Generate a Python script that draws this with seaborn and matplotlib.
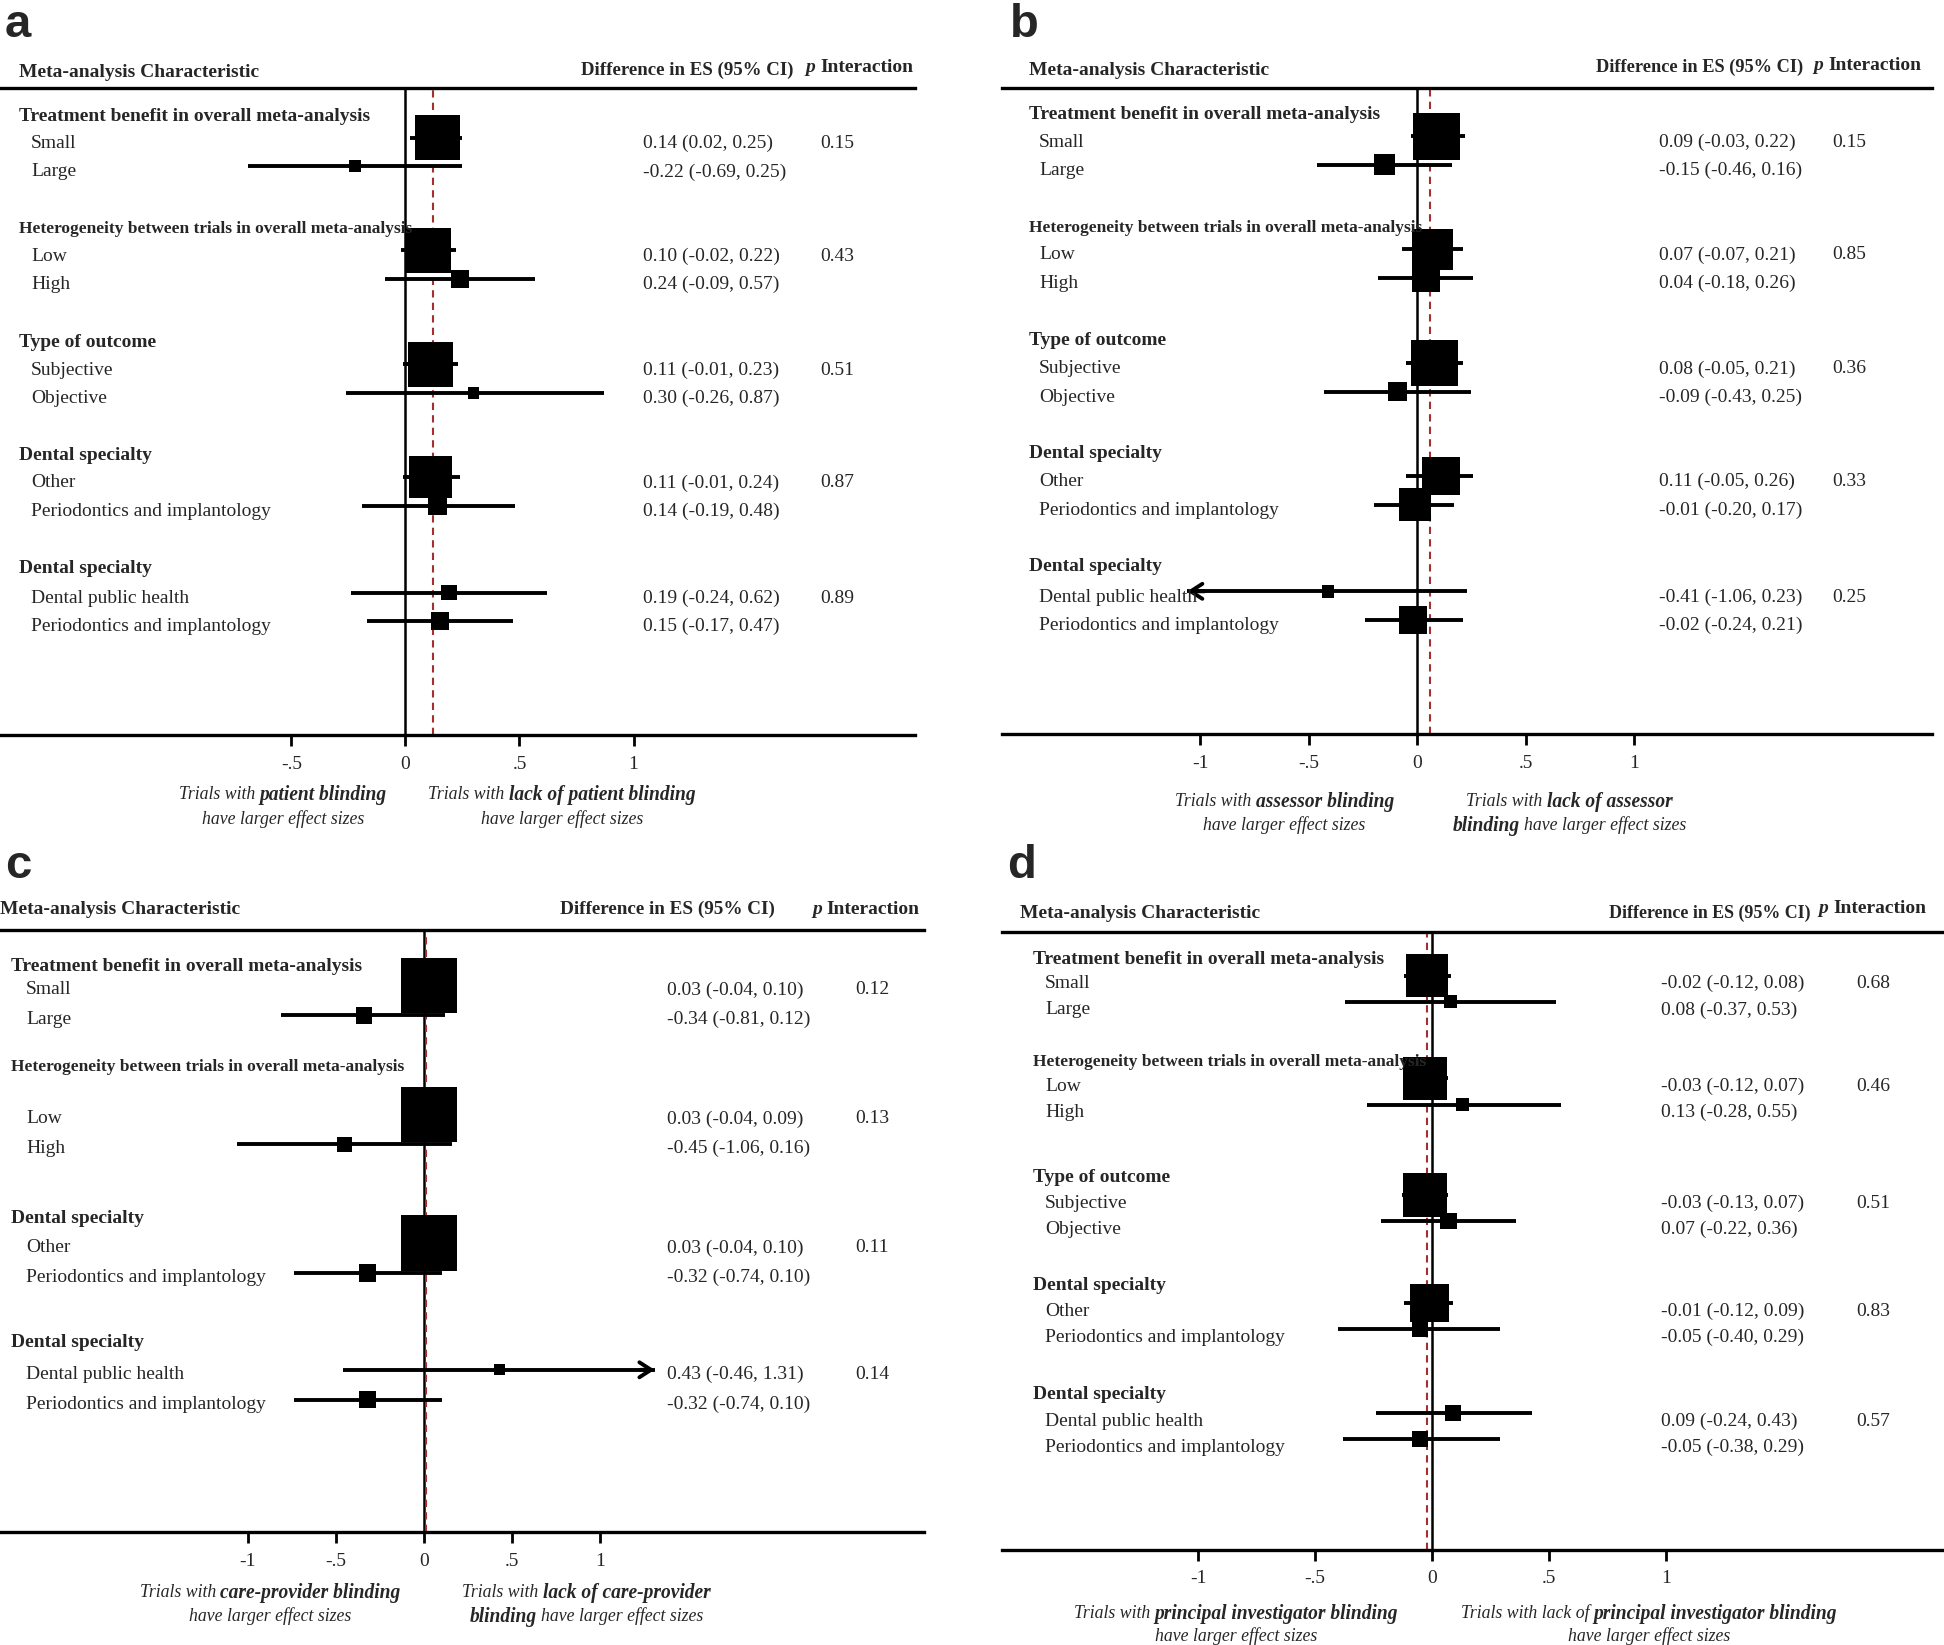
import numpy as np
import pandas as pd
import matplotlib
matplotlib.use("Agg")
import matplotlib.pyplot as plt
import matplotlib.transforms as mtransforms
import seaborn as sns

# ---------------- data ----------------
groups_abd = ["Treatment benefit in overall meta-analysis",
              "Heterogeneity between trials in overall meta-analysis",
              "Type of outcome", "Dental specialty", "Dental specialty"]
items_abd = ["Small", "Large", "Low", "High", "Subjective", "Objective",
             "Other", "Periodontics and implantology",
             "Dental public health", "Periodontics and implantology"]
groups_c = ["Treatment benefit in overall meta-analysis",
            "Heterogeneity between trials in overall meta-analysis",
            "Dental specialty", "Dental specialty"]
items_c = ["Small", "Large", "Low", "High",
           "Other", "Periodontics and implantology",
           "Dental public health", "Periodontics and implantology"]

# a: patient blinding
a_est = [0.14, -0.22, 0.10, 0.24, 0.11, 0.30, 0.11, 0.14, 0.19, 0.15]
a_lo = [0.02, -0.69, -0.02, -0.09, -0.01, -0.26, -0.01, -0.19, -0.24, -0.17]
a_hi = [0.25, 0.25, 0.22, 0.57, 0.23, 0.87, 0.24, 0.48, 0.62, 0.47]
a_weight = [13.0, 1.0, 13.0, 2.1, 13.0, 0.8, 11.6, 2.25, 1.6, 2.1]
a_p = ["0.15", "0.43", "0.51", "0.87", "0.89"]
a_overall = 0.12

# b: assessor blinding
b_est = [0.09, -0.15, 0.07, 0.04, 0.08, -0.09, 0.11, -0.01, -0.41, -0.02]
b_lo = [-0.03, -0.46, -0.07, -0.18, -0.05, -0.43, -0.05, -0.20, -1.06, -0.24]
b_hi = [0.22, 0.16, 0.21, 0.26, 0.21, 0.25, 0.26, 0.17, 0.23, 0.21]
b_weight = [14.1, 2.9, 10.9, 5.1, 14.1, 2.25, 9.0, 6.8, 1.0, 5.1]
b_p = ["0.15", "0.85", "0.36", "0.33", "0.25"]
b_overall = 0.06

# c: care-provider blinding
c_est = [0.03, -0.34, 0.03, -0.45, 0.03, -0.32, 0.43, -0.32]
c_lo = [-0.04, -0.81, -0.04, -1.06, -0.04, -0.74, -0.46, -0.74]
c_hi = [0.10, 0.12, 0.09, 0.16, 0.10, 0.10, 1.31, 0.10]
c_weight = [20.3, 1.8, 20.3, 1.4, 20.3, 2.0, 0.8, 2.0]
c_p = ["0.12", "0.13", "0.11", "0.14"]
c_overall = 0.01

# d: principal investigator blinding
d_est = [-0.02, 0.08, -0.03, 0.13, -0.03, 0.07, -0.01, -0.05, 0.09, -0.05]
d_lo = [-0.12, -0.37, -0.12, -0.28, -0.13, -0.22, -0.12, -0.40, -0.24, -0.38]
d_hi = [0.08, 0.53, 0.07, 0.55, 0.07, 0.36, 0.09, 0.29, 0.43, 0.29]
d_weight = [11.6, 1.1, 12.3, 1.2, 12.3, 1.8, 9.6, 1.6, 1.6, 1.6]
d_p = ["0.68", "0.46", "0.51", "0.83", "0.57"]
d_overall = -0.02

# ---------------- style ----------------
sns.set_theme(style="white")
plt.rcParams["font.family"] = ["Liberation Serif", "DejaVu Serif"]
SERIF = "Liberation Serif"

W, H = 1568, 1327           # layout units (reference pixels)
fig = plt.figure(figsize=(19.44, 16.45), dpi=100)
ref = mtransforms.Affine2D().scale(1 / W, -1 / H).translate(0, 1) + fig.transFigure
AREA = 79.7                 # marker area (pt^2) per unit of weight
RED = "#a3302f"


def rich(x, y, parts, size, ha="center", bold_scale=1.0):
    """Write one line made of (text, weight, style) pieces."""
    r = fig.canvas.get_renderer()
    gap = 0.25 * size * 100 / 72 * W / fig.bbox.width
    texts, widths = [], []
    for s, wt, st in parts:
        fs = size * bold_scale if wt == "bold" else size
        t = fig.text(0, y, s, transform=ref, fontsize=fs, fontweight=wt,
                     fontstyle=st, family=SERIF, va="center_baseline", ha="left")
        widths.append(t.get_window_extent(r).width * W / fig.bbox.width)
        texts.append(t)
    total = sum(widths) + gap * (len(parts) - 1)
    xx = x - total / 2 if ha == "center" else x
    for t, wd in zip(texts, widths):
        t.set_x(xx)
        xx += wd + gap


def draw_panel(P):
    x0, x1, yt, yb = P["box"]
    zero, ppu = P["zero"], P["ppu"]
    ax = fig.add_axes([x0 / W, 1 - yb / H, (x1 - x0) / W, (yb - yt) / H])
    est, lo, hi, w = map(np.asarray, (P["est"], P["lo"], P["hi"], P["weight"]))
    item_y = np.array([r for g in P["rows"] for r in g[1:]], dtype=float)
    mark_y = item_y + P["dy"]

    ax.axvline(0, color="black", lw=1.8, zorder=2)
    ax.axvline(P["overall"], color=RED, lw=1.5, ls=(0, (3.5, 2.5)), zorder=2.5)
    ax.hlines(mark_y, lo, hi, color="black", lw=2.8, zorder=3)
    lim_lo, lim_hi = P["arrow_at"]
    for yy, l, h in zip(mark_y, lo, hi):
        for end, beyond in ((l, l < lim_lo), (h, h > lim_hi)):
            if beyond:
                ax.annotate("", xy=(end, yy), xytext=(end - 0.08 * np.sign(end), yy),
                            arrowprops=dict(arrowstyle="->,head_length=0.7,head_width=0.45",
                                            lw=2.8, color="black", shrinkA=0, shrinkB=0),
                            zorder=3)

    df = pd.DataFrame({"est": est, "y": mark_y, "w": w})
    wmax = w.max()
    sns.scatterplot(data=df, x="est", y="y", size="w", sizes=(0, AREA * wmax),
                    size_norm=(0, wmax), marker="s", color="black", linewidth=0,
                    legend=False, ax=ax, zorder=4)

    ax.set_xlim((x0 - zero) / ppu, (x1 - zero) / ppu)
    ax.set_ylim(yb, yt)
    ax.set_xticks(P["ticks"])
    ax.set_xticklabels(P["ticklabels"], fontsize=14, family=SERIF)
    ax.set_yticks([])
    ax.set_xlabel("")
    ax.set_ylabel("")
    ax.tick_params(axis="x", bottom=True, direction="out", length=8, width=2.0,
                   pad=7, color="black")
    for side in ("left", "right"):
        ax.spines[side].set_visible(False)
    for side in ("top", "bottom"):
        ax.spines[side].set_color("black")
        ax.spines[side].set_linewidth(2.4)
    ax.patch.set_alpha(0)

    # left column and numbers
    gx, ix, ex, px = P["text_x"]
    k = 0
    for gi, (g, row) in enumerate(zip(P["groups"], P["rows"])):
        small = g.startswith("Heterogeneity")
        fig.text(gx, row[0], g, transform=ref, fontsize=12.5 if small else 14,
                 fontweight="bold", family=SERIF, va="center_baseline")
        for j, yy in enumerate(row[1:]):
            fig.text(ix, yy, P["items"][k], transform=ref, fontsize=14,
                     family=SERIF, va="center_baseline")
            fig.text(ex, yy, f"{est[k]:.2f} ({lo[k]:.2f}, {hi[k]:.2f})",
                     transform=ref, fontsize=14, family=SERIF, va="center_baseline")
            if j == 0:
                fig.text(px, yy, P["p"][gi], transform=ref, fontsize=14,
                         family=SERIF, va="center_baseline")
            k += 1

    # header
    (cx, cy), (dx, dy_, dsize), (ppx, ppy) = P["header"]
    fig.text(cx, cy, "Meta-analysis Characteristic", transform=ref, fontsize=14,
             fontweight="bold", family=SERIF, va="center_baseline")
    fig.text(dx, dy_, "Difference in ES (95% CI)", transform=ref, fontsize=dsize,
             fontweight="bold", family=SERIF, va="center_baseline")
    rich(ppx, ppy, [("p", "bold", "italic"), ("Interaction", "bold", "normal")],
         14, ha="left")

    # panel letter
    lx, ly = P["letter_xy"]
    fig.text(lx, ly, P["letter"], transform=ref, fontsize=34, fontweight="bold",
             family="Liberation Sans", va="baseline")

    # captions under the axis
    for xc, yc, parts in P["captions"]:
        rich(xc, yc, parts, 12.8, bold_scale=1.1)


I, B = "normal", "bold"


def cap(*pieces):
    return [(s, wt, "italic") for s, wt in pieces]


panels = [
    dict(letter="a", letter_xy=(4, 30), est=a_est, lo=a_lo, hi=a_hi, weight=a_weight,
         p=a_p, overall=a_overall, groups=groups_abd, items=items_abd,
         box=(0, 738, 71, 593), zero=327, ppu=184, arrow_at=(-1.5, 1.5),
         ticks=[-0.5, 0, 0.5, 1], ticklabels=["-.5", "0", ".5", "1"],
         rows=[(92, 114, 137), (183, 205, 228), (275, 297, 320), (366, 388, 411), (457, 481, 504)],
         dy=-3, text_x=(15, 25, 519, 662),
         header=((15, 57), (469, 55, 13.6), (650, 53)),
         captions=[(228, 639, cap(("Trials with", I), ("patient blinding", B))),
                   (228, 659, cap(("have larger effect sizes", I))),
                   (453, 639, cap(("Trials with", I), ("lack of patient blinding", B))),
                   (453, 659, cap(("have larger effect sizes", I)))]),
    dict(letter="b", letter_xy=(815, 30), est=b_est, lo=b_lo, hi=b_hi, weight=b_weight,
         p=b_p, overall=b_overall, groups=groups_abd, items=items_abd,
         box=(808, 1558, 71, 592), zero=1143, ppu=175, arrow_at=(-1.0, 1.0),
         ticks=[-1, -0.5, 0, 0.5, 1], ticklabels=["-1", "-.5", "0", ".5", "1"],
         rows=[(91, 113, 136), (182, 204, 227), (273, 296, 319), (364, 387, 410), (455, 480, 503)],
         dy=-3, text_x=(830, 838, 1338, 1478),
         header=((830, 55), (1287, 53, 13.2), (1463, 51)),
         captions=[(1036, 645, cap(("Trials with", I), ("assessor blinding", B))),
                   (1036, 664, cap(("have larger effect sizes", I))),
                   (1266, 645, cap(("Trials with", I), ("lack of assessor", B))),
                   (1266, 664, cap(("blinding", B), ("have larger effect sizes", I)))]),
    dict(letter="c", letter_xy=(4, 708), est=c_est, lo=c_lo, hi=c_hi, weight=c_weight,
         p=c_p, overall=c_overall, groups=groups_c, items=items_c,
         box=(0, 745, 750, 1236), zero=342, ppu=142, arrow_at=(-1.1, 1.0),
         ticks=[-1, -0.5, 0, 0.5, 1], ticklabels=["-1", "-.5", "0", ".5", "1"],
         rows=[(778, 797, 821), (859, 901, 925), (981, 1005, 1029), (1081, 1107, 1131)],
         dy=-2, text_x=(9, 21, 538, 690),
         header=((0, 732), (452, 732, 13.8), (655, 732)),
         captions=[(218, 1283, cap(("Trials with", I), ("care-provider blinding", B))),
                   (218, 1302, cap(("have larger effect sizes", I))),
                   (473, 1283, cap(("Trials with", I), ("lack of care-provider", B))),
                   (473, 1302, cap(("blinding", B), ("have larger effect sizes", I)))]),
    dict(letter="d", letter_xy=(812, 708), est=d_est, lo=d_lo, hi=d_hi, weight=d_weight,
         p=d_p, overall=d_overall, groups=groups_abd, items=items_abd,
         box=(808, 1568, 752, 1250), zero=1155, ppu=188.5, arrow_at=(-1.0, 1.0),
         ticks=[-1, -0.5, 0, 0.5, 1], ticklabels=["-1", "-.5", "0", ".5", "1"],
         rows=[(772, 792, 813), (855, 875, 896), (948, 969, 990), (1035, 1056, 1077), (1123, 1145, 1166)],
         dy=-5, text_x=(833, 843, 1340, 1497),
         header=((823, 735), (1298, 735, 12.9), (1467, 731)),
         captions=[(997, 1300, cap(("Trials with", I), ("principal investigator blinding", B))),
                   (997, 1318, cap(("have larger effect sizes", I))),
                   (1330, 1300, cap(("Trials with lack of", I), ("principal investigator blinding", B))),
                   (1330, 1318, cap(("have larger effect sizes", I)))]),
]

for P in panels:
    draw_panel(P)

fig.savefig("out.png", dpi=100, facecolor="white")
